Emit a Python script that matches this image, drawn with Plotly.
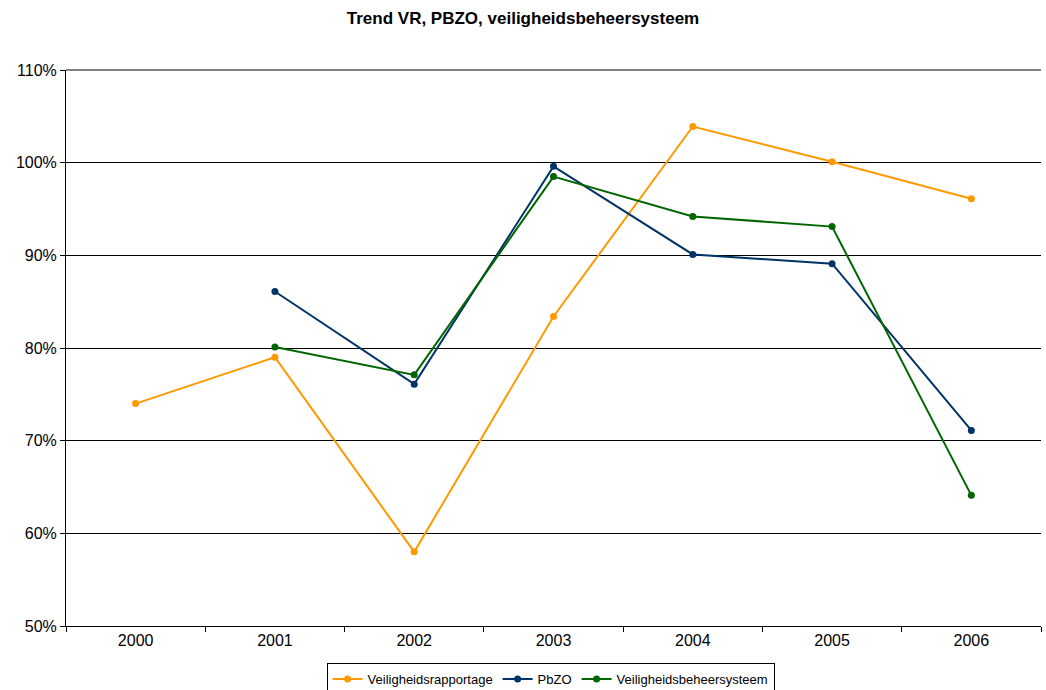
import plotly.graph_objects as go

years = ["2000", "2001", "2002", "2003", "2004", "2005", "2006"]
vr = [74, 79, 58, 83.4, 103.9, 100.1, 96.1]
pbzo = [None, 86.1, 76.1, 99.6, 90.1, 89.1, 71.1]
vbs = [None, 80.1, 77.1, 98.5, 94.2, 93.1, 64.1]

series = [
    ("Veiligheidsrapportage", vr, "#FF9900"),
    ("PbZO", pbzo, "#003366"),
    ("Veiligheidsbeheersysteem", vbs, "#006600"),
]

fig = go.Figure()
for name, vals, col in series:
    fig.add_trace(go.Scatter(
        x=years, y=vals, name=name, mode="lines+markers",
        line=dict(color=col, width=2),
        marker=dict(color=col, size=7),
        connectgaps=False,
    ))

fig.add_shape(type="line", xref="paper", yref="paper", x0=0, x1=1, y0=1, y1=1,
              line=dict(color="#808080", width=2), layer="above")

fig.update_layout(
    width=1046, height=690,
    margin=dict(l=66, r=5, t=70, b=64, autoexpand=False),
    paper_bgcolor="white", plot_bgcolor="white",
    font=dict(family="Liberation Sans, Arial, sans-serif", size=16, color="black"),
    title=dict(text="<b>Trend VR, PBZO, veiligheidsbeheersysteem</b>",
               x=0.5, xanchor="center", y=1 - 18 / 690, yanchor="middle",
               font=dict(size=17)),
    showlegend=True,
    legend=dict(orientation="h", x=0.497, xanchor="center", y=-53 / 556, yanchor="middle",
                bordercolor="black", borderwidth=1, font=dict(size=13),
                itemwidth=30, tracegroupgap=0),
    xaxis=dict(type="category", range=[-0.5, 6.5], showgrid=False, automargin=False,
               showline=True, linecolor="black", linewidth=1,
               ticks="outside", tickson="boundaries", ticklen=5, tickcolor="black",
               tickfont=dict(size=16)),
    yaxis=dict(range=[50, 110], dtick=10, ticksuffix="%", automargin=False,
               showgrid=True, gridcolor="black", gridwidth=1,
               showline=True, linecolor="black", linewidth=1,
               ticks="outside", ticklen=5, tickcolor="black",
               zeroline=False, tickfont=dict(size=16)),
)

fig.write_html("out.html", config={"displayModeBar": False},
               post_script="document.body.style.margin='0';document.body.style.overflow='hidden';")
